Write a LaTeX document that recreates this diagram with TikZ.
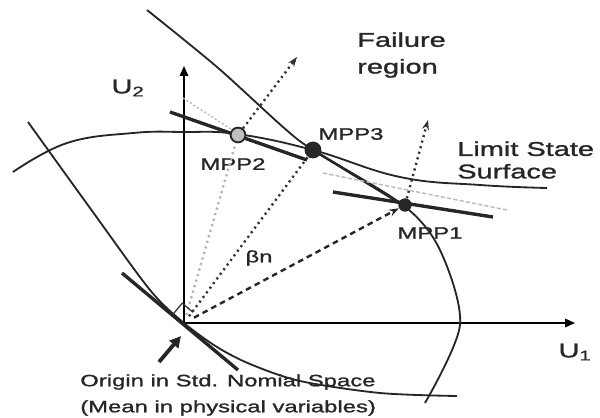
\documentclass[tikz,border=0pt]{standalone}
\usepackage{fontspec}
\newfontfamily\figfont[FakeStretch=1.45,FakeBold=1.3]{Liberation Sans}
\usetikzlibrary{arrows.meta,calc}

\begin{document}
\begin{tikzpicture}[
    x=0.025cm, y=-0.025cm,
    curve/.style={line width=1.3pt, black!85},
    tangent/.style={line width=2.4pt, black!85},
    faint/.style={line width=1pt, gray!55, dash pattern=on 3pt off 1.5pt},
    axis/.style={line width=1.3pt, -{Triangle[length=7pt,width=6pt]}},
    ray/.style={line width=1.7pt, black!80, dash pattern=on 1.5pt off 2.6pt, shorten <=6pt},
    dashray/.style={line width=1.7pt, black!85, dash pattern=on 4pt off 3pt, shorten <=8pt},
    ptr/.style={-{Stealth[length=7pt,width=5pt]}},
    mpp/.style={circle, fill=black!85, inner sep=0pt, minimum size=9.5pt},
    lbl/.style={font=\figfont\fontsize{11.7}{18.5}\selectfont, inner sep=0pt, text=black!85},
    biglbl/.style={font=\figfont\fontsize{14.2}{16}\selectfont, align=left, inner sep=0pt, text=black!85}
]
\useasboundingbox (0,0) rectangle (600,417);

% Axes
\coordinate (O) at (184,323);
\coordinate (u1end) at (575,323);
\coordinate (u2end) at (184,66);
\draw[axis] (O) -- (u1end);
\draw[axis] (O) -- (u2end);
\node[biglbl] (u1) at (575,352) {U\textsubscript{1}};
\node[biglbl] (u2) at (128,88) {U\textsubscript{2}};

% Limit state surfaces
\draw[curve] plot[smooth, tension=0.7] coordinates {(13,172) (67,143) (133,133) (183,132) (237,134) (313,150) (400,177) (480,185) (547,188)};
\draw[curve] plot[smooth, tension=0.5] coordinates {(147,10) (217,67) (283,127) (313,150) (403,205) (440,250) (460,325) (425,403)};
\draw[curve] plot[smooth, tension=0.5] coordinates {(28,122) (90,208) (150,290) (184,323) (217,347) (250,364) (300,381) (380,393) (457,396)};

% Tangent lines
\draw[faint, dash pattern=on 1.5pt off 1.5pt] (183,98) -- (240,135);
\draw[tangent] (170,112) -- (307,160);
\draw[line width=1.8pt, black!85] (313,150) -- (403,205);
\draw[faint] (323,173) -- (507,210);
\draw[tangent] (333,192) -- (493,217);
\draw[tangent] (122,273) -- (238,370);

% Most probable points
\node[mpp, minimum size=12pt] (mpp3) at (313,150) {};
\node[mpp, fill=gray!50, draw=black!85, line width=1.3pt, minimum size=10.5pt] (mpp2) at (238,135) {};
\node[mpp] (mpp1) at (405,205) {};
\node[lbl] (mpp3lbl) at (351,134) {MPP3};
\node[lbl] (mpp2lbl) at (233,164) {MPP2};
\node[lbl] (mpp1lbl) at (430,233) {MPP1};

% Rays from the origin
\coordinate (tipA) at (297,57);
\coordinate (tipB) at (428,120);
\draw[ray, gray!60] (O) -- (mpp2);
\draw[ray] (O) -- (mpp3);
\draw[dashray, ptr] (O) -- (mpp1);
\draw[ray, ptr, shorten <=0pt] (mpp2) -- (tipA);
\draw[ray, ptr, shorten <=0pt] (mpp1) -- (tipB);
\node[lbl] (beta) at (259,258) {βn};

% Right angle mark
\draw[line width=0.9pt, black!80] ($(O)+(-10.8,-9)$) -- ++(9,-10.8) -- ++(10.8,9);

% Labels
\node[biglbl, anchor=west] (fail) at (357,55) {Failure\\[3pt]region};
\node[biglbl, anchor=west] (lss) at (457,160) {Limit State\\Surface};
\node[lbl, anchor=west, align=left] (origin) at (80,395) {Origin in Std. Nomial Space\\(Mean in physical variables)};

% Pointer to the origin
\coordinate (orgtail) at (159,362);
\coordinate (orgtip) at (181,336);
\draw[line width=2.7pt, black!85, -{Triangle[length=8pt,width=8pt]}] (orgtail) -- (orgtip);

\end{tikzpicture}
\end{document}
